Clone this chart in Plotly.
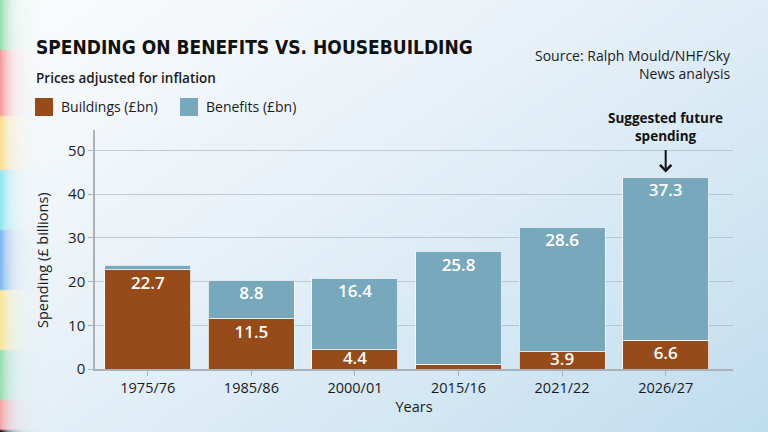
import base64, struct, zlib
import numpy as np
import plotly.graph_objects as go

# ---- data ----
years = ["1975/76", "1985/86", "2000/01", "2015/16", "2021/22", "2026/27"]
buildings = [22.7, 11.5, 4.4, 1.1, 3.9, 6.6]
benefits = [1.1, 8.8, 16.4, 25.8, 28.6, 37.3]
series_names = ["Buildings (£bn)", "Benefits (£bn)"]
colors = ["#974B19", "#78A8BC"]
y_ticks = [0, 10, 20, 30, 40, 50]

FONT = "Open Sans"
TXT = "#1b1b1b"
W, H = 768, 432
ML, MR, MT, MB = 95, 35, 130, 63
PW, PH = W - ML - MR, H - MT - MB


# ---- background image (gradient + left colour strip) ----
def make_png(arr):
    h, w, _ = arr.shape
    raw = b"".join(b"\x00" + arr[r].tobytes() for r in range(h))
    def chunk(t, d):
        c = struct.pack(">I", len(d)) + t + d
        return c + struct.pack(">I", zlib.crc32(t + d) & 0xFFFFFFFF)
    return (b"\x89PNG\r\n\x1a\n" + chunk(b"IHDR", struct.pack(">IIBBBBB", w, h, 8, 2, 0, 0, 0))
            + chunk(b"IDAT", zlib.compress(raw, 9)) + chunk(b"IEND", b""))

bw, bh = 384, 216
xs = np.linspace(0, 1, bw)[None, :]
ys = np.linspace(0, 1, bh)[:, None]
t = np.clip(0.55 * xs + 0.45 * ys, 0, 1) ** 1.3
c0 = np.array([250, 251, 252], float)
c1 = np.array([192, 221, 240], float)
img = c0[None, None, :] * (1 - t[..., None]) + c1[None, None, :] * t[..., None]
stripes = [(0, 50, (150, 222, 175)), (50, 115, (250, 150, 150)), (115, 170, (255, 222, 140)),
           (170, 230, (140, 230, 242)), (230, 290, (125, 180, 240)), (290, 350, (250, 232, 145)),
           (350, 400, (150, 222, 175)), (400, 432, (250, 160, 160))]
strip = np.zeros((bh, 3))
py = np.linspace(0, H, bh)
for a, b, col in stripes:
    m = (py >= a) & (py < b)
    strip[m] = col
px = np.linspace(0, W, bw)[None, :]
alpha = np.exp(-px / 8.0) * 0.95
img = img * (1 - alpha[..., None]) + strip[:, None, :] * alpha[..., None]
img = np.clip(img, 0, 255).astype(np.uint8)
bg_uri = "data:image/png;base64," + base64.b64encode(make_png(img)).decode()

# ---- figure ----
fig = go.Figure()
bases = [[0] * len(years), buildings]
for name, vals, base, col in zip(series_names, [buildings, benefits], bases, colors):
    fig.add_trace(go.Bar(
        x=years, y=vals, name=name, showlegend=False, hoverinfo="x+y+name",
        marker=dict(color=col, line=dict(color="rgba(255,255,255,0.75)", width=1)),
    ))
    # value labels placed near the top of each segment
    lab = [(x, b + max(v - 3.4, v / 2), f"{v:.1f}") for x, v, b in zip(years, vals, base) if v > 2]
    fig.add_trace(go.Scatter(
        x=[l[0] for l in lab], y=[l[1] for l in lab], text=[l[2] for l in lab], mode="text",
        textposition="middle center", showlegend=False, hoverinfo="skip", cliponaxis=False,
        textfont=dict(family=FONT, size=17, color="white", weight=600),
    ))

fig.update_layout(
    width=W, height=H, barmode="stack", bargap=0.17,
    margin=dict(l=ML, r=MR, t=MT, b=MB, autoexpand=False),
    paper_bgcolor="#eef4f9", plot_bgcolor="rgba(0,0,0,0)",
    font=dict(family=FONT, color=TXT, size=14),
    images=[dict(source=bg_uri, xref="paper", yref="paper", x=-ML / PW, y=1 + MT / PH,
                 sizex=W / PW, sizey=H / PH, xanchor="left", yanchor="top",
                 sizing="stretch", layer="below")],
    xaxis=dict(range=[-0.51, 5.65], showline=True, linecolor="#a9b2ba", linewidth=1.5, automargin=False,
               ticks="outside", ticklen=5, tickcolor="#a9b2ba", tickfont=dict(size=14.5, color=TXT),
               title=dict(text="Years", font=dict(size=14.5, color=TXT), standoff=6)),
    yaxis=dict(range=[0, 54.7], tickvals=y_ticks, showgrid=True, gridcolor="rgba(160,170,180,0.55)",
               gridwidth=1.2, showline=True, linecolor="#a9b2ba", linewidth=1.5, zeroline=False,
               automargin=False,
               ticks="outside", ticklen=5, tickcolor="#a9b2ba", tickfont=dict(size=15, color=TXT)),
)

def px2x(p):
    return (p - ML) / PW

def px2y(p):
    return (H - MB - p) / PH

ann = []
ann.append(dict(text="Spending (£ billions)", xref="paper", yref="paper", x=px2x(42), y=px2y(260),
                xanchor="center", yanchor="middle", textangle=-90, showarrow=False,
                font=dict(family=FONT, size=14.5, color=TXT)))
ann.append(dict(text="SPENDING ON BENEFITS VS. HOUSEBUILDING", xref="paper", yref="paper",
                x=px2x(34), y=px2y(47), xanchor="left", yanchor="middle", showarrow=False,
                font=dict(family="DejaVu Sans Condensed", size=19, color="#111111", weight=700)))
ann.append(dict(text="Prices adjusted for inflation", xref="paper", yref="paper",
                x=px2x(34), y=px2y(78), xanchor="left", yanchor="middle", showarrow=False,
                font=dict(family=FONT, size=13.5, color=TXT, weight=600)))
ann.append(dict(text="Source: Ralph Mould/NHF/Sky<br>News analysis", xref="paper", yref="paper",
                x=px2x(733), y=px2y(64), xanchor="right", yanchor="middle", align="right",
                showarrow=False, font=dict(family=FONT, size=14, color=TXT)))
# legend
shapes = []
for lx, name, col in zip([35, 180], series_names, colors):
    shapes.append(dict(type="rect", xref="paper", yref="paper", x0=px2x(lx), x1=px2x(lx + 18),
                       y0=px2y(116), y1=px2y(98), fillcolor=col, line=dict(width=0)))
    ann.append(dict(text=name, xref="paper", yref="paper", x=px2x(lx + 24), y=px2y(107),
                    xanchor="left", yanchor="middle", showarrow=False,
                    font=dict(family=FONT, size=14, color=TXT)))
# future spending note
ann.append(dict(text="Suggested future<br>spending", xref="x", yref="paper", x=years[5], y=px2y(127),
                xanchor="center", yanchor="middle", showarrow=False,
                font=dict(family=FONT, size=13.5, color="#111111", weight=700)))
ann.append(dict(text="", x=years[5], y=buildings[5] + benefits[5] + 1.1, xref="x", yref="y",
                showarrow=True, ax=0, ay=-24, arrowhead=4, arrowsize=1.1, arrowwidth=2,
                arrowcolor="#111111"))
fig.update_layout(annotations=ann, shapes=shapes)

fig.write_html("out.html", config={"displayModeBar": False},
               post_script="document.body.style.margin='0';document.body.style.overflow='hidden';")
